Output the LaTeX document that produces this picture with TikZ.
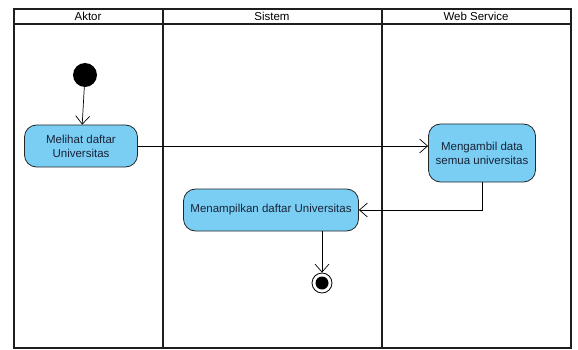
\documentclass[tikz,border=0pt]{standalone}
\usepackage{fontspec}
\setmainfont{Liberation Sans}
\usetikzlibrary{arrows.meta}
\definecolor{actblue}{RGB}{122, 206, 244}
\definecolor{laneline}{RGB}{30, 30, 30}
\definecolor{acttext}{RGB}{25, 35, 55}

\begin{document}
\begin{tikzpicture}[x=1pt, y=-1pt, >={Straight Barb[length=8pt,width=14pt]},
    action/.style={draw=black!85, fill=actblue, rounded corners=12pt, line width=0.8pt,
        align=center, text=acttext, font=\fontsize{11.5}{14}\selectfont},
    lanehead/.style={font=\fontsize{11.5}{13}\selectfont},
    flow/.style={->, line width=0.7pt}]
    \useasboundingbox (0,0) rectangle (578,350);

    % Swimlanes
    \draw[line width=1.8pt, laneline] (14,9) rectangle (571,348);
    \draw[line width=1.8pt, laneline] (14,24) -- (571,24);
    \draw[line width=1.8pt, laneline] (163,9) -- (163,348);
    \draw[line width=1.8pt, laneline] (382,9) -- (382,348);
    \node[lanehead] (aktor) at (88,16.5) {Aktor};
    \node[lanehead] (sistem) at (272,16.5) {Sistem};
    \node[lanehead] (ws) at (476,16.5) {Web Service};

    % Start and end
    \node[circle, fill=black, minimum size=24pt, inner sep=0pt] (start) at (85,75) {};
    \node[circle, draw=black, line width=0.8pt, minimum size=20pt, inner sep=0pt] (stop) at (322,283) {};
    \node[circle, fill=black, minimum size=13pt, inner sep=0pt] at (stop) {};

    % Actions
    \node[action, minimum width=113pt, minimum height=42pt] (lihat) at (81,146) {Melihat daftar\\Universitas};
    \node[action, minimum width=107pt, minimum height=58pt] (ambil) at (482,153) {Mengambil data\\semua universitas};
    \node[action, minimum width=175pt, minimum height=42pt, inner xsep=2pt] (tampil) at (271,210) {Menampilkan daftar Universitas};

    % Flows
    \draw[flow] (start) -- (lihat);
    \draw[flow] (lihat.east) -- (lihat.east -| ambil.west);
    \draw[flow] (ambil.south) |- (tampil.east);
    \draw[flow] (tampil.south -| stop) -- (stop);
\end{tikzpicture}
\end{document}
